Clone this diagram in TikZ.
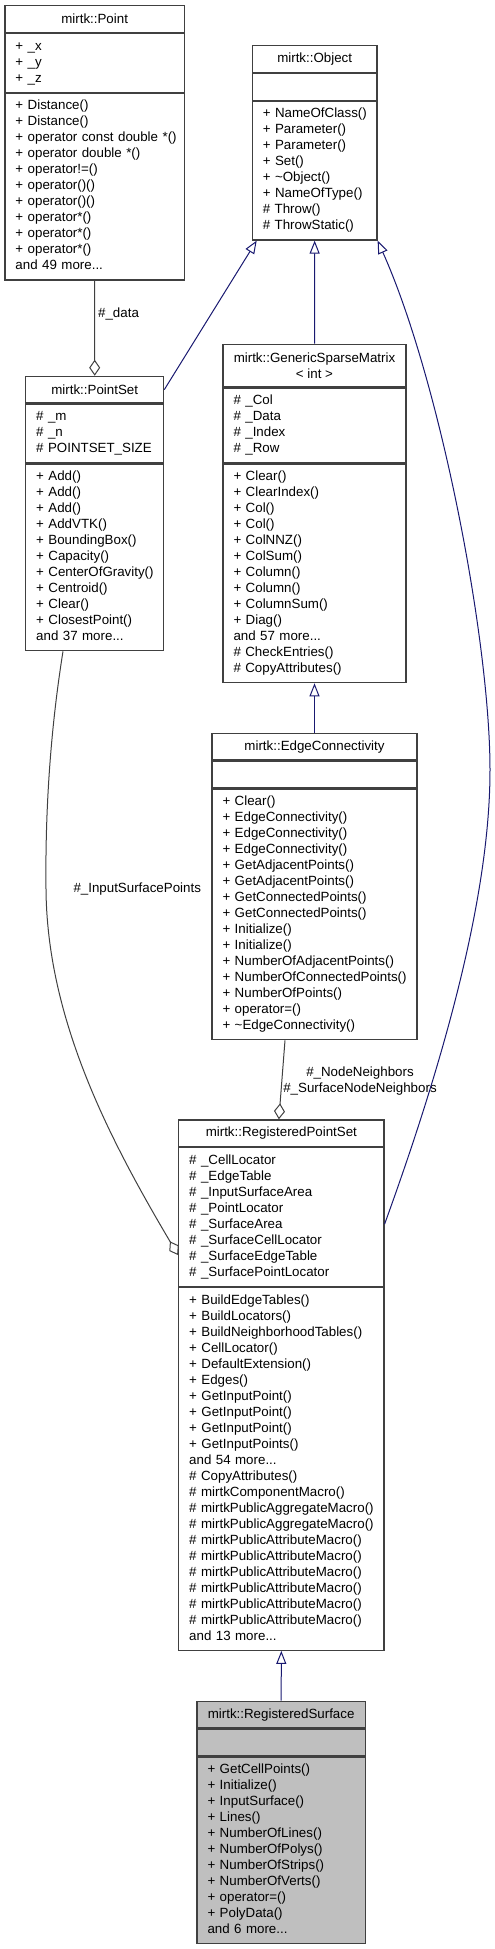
\documentclass[tikz,border=0pt]{standalone}
\usepackage{fontspec}
\setmainfont{Liberation Sans}
\usetikzlibrary{positioning,arrows.meta}
\definecolor{boxline}{HTML}{404040}
\definecolor{edgegray}{HTML}{404040}
\definecolor{edgeblue}{HTML}{191970}
\definecolor{leaffill}{HTML}{BFBFBF}
\newcommand\dgfont{\fontsize{13.33}{16}\selectfont}
\newcommand\memberrows[1]{\begin{tabular}{@{}l@{}}#1\end{tabular}}
\begin{document}
\begin{tikzpicture}[x=1pt,y=-1pt,
	head/.style={draw=boxline,line width=1.2pt,fill=white,minimum height=26.67pt,inner sep=0pt,anchor=north,align=center,font=\dgfont},
	part/.style={draw=boxline,line width=1.2pt,fill=white,inner xsep=10.5pt,inner ysep=0pt,font=\dgfont,below=0pt of #1},
	lbl/.style={inner sep=0pt,font=\dgfont},
	inherit/.style={draw=edgeblue,line width=1pt,-{Triangle[open,length=13pt,width=10pt]}},
	agg/.style={draw=edgegray,line width=1pt,-{Diamond[open,length=16pt,width=11pt]}}]

	\useasboundingbox (0,0) rectangle (495,1949);

	\node[head, minimum width=179.3pt] (point) at (94.65,5) {mirtk::Point};
	\node[part=point, text width=158.3pt, minimum height=58.67pt] (pointattr) {\memberrows{+ \_x\\+ \_y\\+ \_z}};
	\node[part=pointattr, text width=158.3pt, minimum height=186.67pt] (pointops) {\memberrows{+ Distance()\\+ Distance()\\+ operator const double *()\\+ operator double *()\\+ operator!=()\\+ operator()()\\+ operator()()\\+ operator*()\\+ operator*()\\+ operator*()\\and 49 more...}};

	\node[head, minimum width=124.7pt] (object) at (314.65,45) {mirtk::Object};
	\node[part=object, text width=103.7pt, minimum height=26.67pt] (objectattr) {};
	\node[part=objectattr, text width=103.7pt, minimum height=138.67pt] (objectops) {\memberrows{+ NameOfClass()\\+ Parameter()\\+ Parameter()\\+ Set()\\+ \textasciitilde Object()\\+ NameOfType()\\\# Throw()\\\# ThrowStatic()}};

	\node[head, minimum width=138pt] (pointset) at (94.7,375.7) {mirtk::PointSet};
	\node[part=pointset, text width=117pt, minimum height=58.67pt] (pointsetattr) {\memberrows{\# \_m\\\# \_n\\\# POINTSET\_SIZE}};
	\node[part=pointsetattr, text width=117pt, minimum height=186.67pt] (pointsetops) {\memberrows{+ Add()\\+ Add()\\+ Add()\\+ AddVTK()\\+ BoundingBox()\\+ Capacity()\\+ CenterOfGravity()\\+ Centroid()\\+ Clear()\\+ ClosestPoint()\\and 37 more...}};

	\node[head, minimum width=183pt, minimum height=42.67pt] (gsm) at (314.5,343.7) {mirtk::GenericSparseMatrix\\< int >};
	\node[part=gsm, text width=162pt, minimum height=74.67pt] (gsmattr) {\memberrows{\# \_Col\\\# \_Data\\\# \_Index\\\# \_Row}};
	\node[part=gsmattr, text width=162pt, minimum height=218.67pt] (gsmops) {\memberrows{+ Clear()\\+ ClearIndex()\\+ Col()\\+ Col()\\+ ColNNZ()\\+ ColSum()\\+ Column()\\+ Column()\\+ ColumnSum()\\+ Diag()\\and 57 more...\\\# CheckEntries()\\\# CopyAttributes()}};

	\node[head, minimum width=205pt] (ec) at (314.5,732.7) {mirtk::EdgeConnectivity};
	\node[part=ec, text width=184pt, minimum height=26.67pt] (ecattr) {};
	\node[part=ecattr, text width=184pt, minimum height=250.67pt] (ecops) {\memberrows{+ Clear()\\+ EdgeConnectivity()\\+ EdgeConnectivity()\\+ EdgeConnectivity()\\+ GetAdjacentPoints()\\+ GetAdjacentPoints()\\+ GetConnectedPoints()\\+ GetConnectedPoints()\\+ Initialize()\\+ Initialize()\\+ NumberOfAdjacentPoints()\\+ NumberOfConnectedPoints()\\+ NumberOfPoints()\\+ operator=()\\+ \textasciitilde EdgeConnectivity()}};

	\node[head, minimum width=205.3pt] (rps) at (281.35,1119.3) {mirtk::RegisteredPointSet};
	\node[part=rps, text width=184.3pt, minimum height=138.67pt] (rpsattr) {\memberrows{\# \_CellLocator\\\# \_EdgeTable\\\# \_InputSurfaceArea\\\# \_PointLocator\\\# \_SurfaceArea\\\# \_SurfaceCellLocator\\\# \_SurfaceEdgeTable\\\# \_SurfacePointLocator}};
	\node[part=rpsattr, text width=184.3pt, minimum height=362.67pt] (rpsops) {\memberrows{+ BuildEdgeTables()\\+ BuildLocators()\\+ BuildNeighborhoodTables()\\+ CellLocator()\\+ DefaultExtension()\\+ Edges()\\+ GetInputPoint()\\+ GetInputPoint()\\+ GetInputPoint()\\+ GetInputPoints()\\and 54 more...\\\# CopyAttributes()\\\# mirtkComponentMacro()\\\# mirtkPublicAggregateMacro()\\\# mirtkPublicAggregateMacro()\\\# mirtkPublicAttributeMacro()\\\# mirtkPublicAttributeMacro()\\\# mirtkPublicAttributeMacro()\\\# mirtkPublicAttributeMacro()\\\# mirtkPublicAttributeMacro()\\\# mirtkPublicAttributeMacro()\\and 13 more...}};

	\node[head, minimum width=168.3pt, fill=leaffill] (rs) at (281.15,1700.7) {mirtk::RegisteredSurface};
	\node[part=rs, text width=147.3pt, minimum height=26.67pt, fill=leaffill] (rsattr) {};
	\node[part=rsattr, text width=147.3pt, minimum height=186.67pt, fill=leaffill] (rsops) {\memberrows{+ GetCellPoints()\\+ Initialize()\\+ InputSurface()\\+ Lines()\\+ NumberOfLines()\\+ NumberOfPolys()\\+ NumberOfStrips()\\+ NumberOfVerts()\\+ operator=()\\+ PolyData()\\and 6 more...}};

	\draw[agg] (pointops.south) -- node[lbl, pos=0.35, right=3pt] {\#\_data} (pointset.north);
	\draw[inherit] (pointset.east) -- ([xshift=5pt]objectops.south west);
	\draw[inherit] (gsm.north) -- (objectops.south);
	\draw[inherit] (ec.north) -- (gsmops.south);
	\draw[agg] ([xshift=-29.5pt]ecops.south) -- node[lbl, align=center, pos=0.52, right=1pt] {\#\_NodeNeighbors\\\#\_SurfaceNodeNeighbors} ([xshift=-2.5pt]rps.north);
	\draw[agg] ([xshift=-31.7pt]pointsetops.south) .. controls (52,720) and (45,800) .. (46,889) node[lbl, right=27pt] {\#\_InputSurfacePoints} .. controls (47,1020) and (110,1140) .. ([yshift=-38pt]rpsattr.west);
	% the long curve on the right is only roughly like the original
	\draw[inherit] ([yshift=-7pt]rpsattr.east) .. controls (455,1030) and (490,880) .. (490,770) .. controls (490,640) and (440,380) .. (objectops.south east);
	\draw[inherit] (rs.north) -- (rpsops.south);

\end{tikzpicture}
\end{document}
